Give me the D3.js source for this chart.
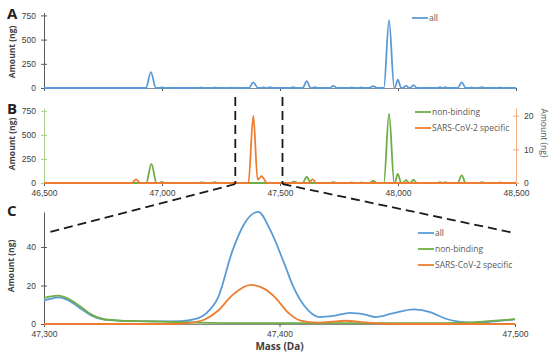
<!DOCTYPE html>
<html>
<head>
<meta charset="utf-8">
<script src="https://d3js.org/d3.v7.min.js"></script>
<style>
  body { margin: 0; background: #fff; }
  svg { display: block; font-family: "Open Sans", sans-serif; }
  .tick text { fill: #404040; font-size: 8.5px; }
  .legend-text { fill: #595959; font-size: 8.5px; }
  .axis-title { fill: #404040; font-size: 8.5px; font-weight: bold; }
  .panel-label { fill: #222; font-size: 15px; font-weight: bold; }
</style>
</head>
<body>
<div id="chart"></div>
<script>
// Panel A: all antibodies (ng) vs mass (Da)
var allA = [[46500,0],[46932,0],[46953,165],[46974,0],[46990,0],[47000,6],[47012,0],
  [47155,0],[47168,5],[47180,0],[47212,0],[47224,5],[47236,0],[47284,0],[47296,4],[47308,0],
  [47368,0],[47387,58],[47406,2],[47418,1],[47430,6],[47442,1],[47447,1],[47457,8],[47470,0],
  [47543,0],[47556,10],[47569,0],[47596,0],[47613,70],[47630,0],[47636,0],[47648,8],[47660,0],
  [47710,0],[47726,22],[47742,0],[47790,0],[47804,5],[47818,0],[47832,0],[47846,5],[47860,0],
  [47878,0],[47895,20],[47912,0],[47940,0],[47962,700],[47984,0],[47986,0],[47999,85],[48014,0],
  [48020,0],[48034,25],[48048,0],[48052,0],[48065,30],[48080,0],[48164,0],[48178,8],[48190,0],
  [48199,8],[48212,0],[48253,0],[48270,58],[48287,0],[48298,0],[48312,5],[48326,0],
  [48341,0],[48355,8],[48369,0],[48418,0],[48432,5],[48446,0],[48500,0]];

// Panel B: non-binding (left axis, ng) and SARS-CoV-2 specific (right axis, ng)
var nonBindingB = [[46500,0],[46933,0],[46955,198],[46977,0],[46988,0],[47000,12],[47013,0],
  [47154,0],[47168,6],[47182,0],[47210,0],[47224,8],[47238,0],[47543,0],[47560,15],[47577,0],
  [47596,0],[47613,65],[47630,0],[47710,0],[47726,8],[47742,0],[47790,0],[47804,5],[47818,0],
  [47832,0],[47846,5],[47860,0],[47878,0],[47895,22],[47912,0],[47940,0],[47962,720],[47984,0],
  [47986,0],[47999,95],[48014,0],[48020,0],[48034,30],[48048,0],[48052,0],[48065,35],[48080,0],
  [48164,0],[48178,8],[48190,0],[48199,8],[48212,0],[48253,0],[48270,80],[48287,0],
  [48340,0],[48355,10],[48370,0],[48418,0],[48432,5],[48446,0],[48500,0]];
var specificB = [[46500,0],[46873,0],[46890,1.1],[46907,0],[47366,0],[47387,20],[47405,1],
  [47414,1.5],[47422,2],[47432,1.2],[47444,0],[47622,0],[47638,1.1],[47654,0],[48500,0]];

// Panel C: zoom 47,300 - 47,500 Da
var allC = [[47300,12.3],[47303,13.2],[47306,13.8],[47310,12.5],[47315,8.5],[47320,4.5],
  [47325,2.4],[47332,1.7],[47340,1.5],[47350,1.4],[47358,1.5],[47364,2.5],[47369,5.7],
  [47374,14],[47380,38],[47385,52],[47391,58.3],[47396,49],[47402,31.5],[47406,19],
  [47412,7.3],[47417,3.6],[47423,4.2],[47430,5.8],[47436,5],[47441,3.6],[47448,5.5],
  [47457,7.6],[47464,6.2],[47470,3],[47476,1.2],[47482,0.6],[47490,1.2],[47500,2.4]];
var nonBindingC = [[47300,13.5],[47303,14.3],[47306,14.7],[47310,13.3],[47315,9.5],[47320,5],
  [47325,2.6],[47332,1.8],[47340,1.5],[47350,1.2],[47360,0.9],[47370,0.6],[47380,0.5],
  [47440,0.5],[47470,0.5],[47480,0.8],[47490,1.6],[47500,2.5]];
var specificC = [[47300,0],[47355,0],[47362,0.6],[47368,2.2],[47374,7],[47380,15],[47388,20.3],
  [47394,18],[47398,14],[47404,5.5],[47409,1.7],[47416,0.7],[47422,1.2],[47428,1.7],
  [47434,1.1],[47440,0.4],[47450,0],[47500,0]];

var massTicksAB = [46500, 47000, 47500, 48000, 48500];
var massTicksC = [47300, 47400, 47500];
var amountTicksLeft = [0, 250, 500, 750];
var amountTicksRight = [0, 10, 20];
var amountTicksC = [0, 20, 40];
var zoomWindow = [47300, 47500];

var colors = { all: "#5B9BD5", nonBinding: "#70AD47", specific: "#ED7D31" };

var svg = d3.select("#chart").append("svg").attr("width", 550).attr("height", 358);

var x = d3.scaleLinear().domain([46500, 48500]).range([44, 516]);
var xC = d3.scaleLinear().domain([47300, 47500]).range([44, 515]);
var yA = d3.scaleLinear().domain([0, 780]).range([88, 12.5]);
var yB = d3.scaleLinear().domain([0, 780]).range([183, 108]);
var yBR = d3.scaleLinear().domain([0, 22.3]).range([183, 108]);
var yC = d3.scaleLinear().domain([0, 58.2]).range([324, 212]);

function lineFor(xs, ys) {
  return d3.line()
    .x(function(d) { return xs(d[0]); })
    .y(function(d) { return ys(d[1]); })
    .curve(d3.curveMonotoneX);
}

function numFmt(d) { return d3.format(",")(d); }

// cross ticks on value axes
function leftAxis(g, scale, ticks, color) {
  g.call(d3.axisLeft(scale).tickValues(ticks).tickSizeInner(3).tickSizeOuter(0).tickPadding(5));
  g.select(".domain").attr("stroke", color).attr("stroke-width", 1);
  g.selectAll(".tick line").attr("x1", 3).attr("stroke", color);
}
function rightAxis(g, scale, ticks, color) {
  g.call(d3.axisRight(scale).tickValues(ticks).tickSizeInner(3).tickSizeOuter(0).tickPadding(5));
  g.select(".domain").attr("stroke", color).attr("stroke-width", 1);
  g.selectAll(".tick line").attr("x1", -3).attr("stroke", color);
}
function bottomAxis(g, scale, ticks, showLabels) {
  g.call(d3.axisBottom(scale).tickValues(ticks).tickSizeInner(3).tickSizeOuter(0).tickPadding(4)
    .tickFormat(showLabels ? numFmt : ""));
  g.select(".domain").attr("stroke", "#8c8c8c");
  g.selectAll(".tick line").attr("stroke", "#595959");
}

function drawSeries(data, xs, ys, color) {
  svg.append("path")
    .datum(data)
    .attr("fill", "none")
    .attr("stroke", color)
    .attr("stroke-width", 1.8)
    .attr("stroke-linejoin", "round")
    .attr("d", lineFor(xs, ys));
}

function legend(items, lx, ly, step) {
  items.forEach(function(it, i) {
    svg.append("line")
      .attr("x1", lx).attr("x2", lx + 16)
      .attr("y1", ly + i * step).attr("y2", ly + i * step)
      .attr("stroke", it.color).attr("stroke-width", 1.8);
    svg.append("text")
      .attr("class", "legend-text")
      .attr("x", lx + 17).attr("y", ly + i * step + 3)
      .text(it.name);
  });
}

function yTitle(text, tx, ty, rot, cls) {
  svg.append("text")
    .attr("class", cls || "axis-title")
    .attr("text-anchor", "middle")
    .attr("transform", "translate(" + tx + "," + ty + ") rotate(" + rot + ")")
    .text(text);
}

// ---- Panel A
bottomAxis(svg.append("g").attr("transform", "translate(0," + yA(0) + ")"), x, massTicksAB, false);
leftAxis(svg.append("g").attr("transform", "translate(" + x(46500) + ",0)"), yA, amountTicksLeft, "#595959");
drawSeries(allA, x, yA, colors.all);
legend([{ name: "all", color: colors.all }], 412, 18, 16);
yTitle("Amount (ng)", 15, 52, -90);

// ---- Panel B
bottomAxis(svg.append("g").attr("transform", "translate(0," + yB(0) + ")"), x, massTicksAB, true);
leftAxis(svg.append("g").attr("transform", "translate(" + x(46500) + ",0)"), yB, amountTicksLeft, "#A9D18E");
rightAxis(svg.append("g").attr("transform", "translate(" + x(48500) + ",0)"), yBR, amountTicksRight, "#F4B183");
drawSeries(nonBindingB, x, yB, colors.nonBinding);
drawSeries(specificB, x, yBR, colors.specific);
legend([{ name: "non-binding", color: colors.nonBinding },
        { name: "SARS-CoV-2 specific", color: colors.specific }], 415, 112, 16);
yTitle("Amount (ng)", 15, 144, -90);
yTitle("Amount (ng)", 541, 133, 90, "legend-text");

// ---- Panel C
bottomAxis(svg.append("g").attr("transform", "translate(0," + yC(0) + ")"), xC, massTicksC, true);
leftAxis(svg.append("g").attr("transform", "translate(" + xC(47300) + ",0)"), yC, amountTicksC, "#595959");
drawSeries(allC, xC, yC, colors.all);
drawSeries(nonBindingC, xC, yC, colors.nonBinding);
drawSeries(specificC, xC, yC, colors.specific);
legend([{ name: "all", color: colors.all },
        { name: "non-binding", color: colors.nonBinding },
        { name: "SARS-CoV-2 specific", color: colors.specific }], 418, 233, 16);
yTitle("Amount (ng)", 14, 266, -90);
svg.append("text")
  .attr("class", "axis-title")
  .attr("text-anchor", "middle")
  .attr("x", xC(47400)).attr("y", 350)
  .style("font-size", "10px")
  .text("Mass (Da)");

// ---- zoom guide lines
var dash = { stroke: "#1a1a1a", width: 1.8, array: "9,5" };
zoomWindow.forEach(function(m, i) {
  var px = x(m) + 2.5;
  svg.append("line")
    .attr("x1", px).attr("x2", px)
    .attr("y1", 97).attr("y2", yB(0) + 1)
    .attr("stroke", dash.stroke).attr("stroke-width", dash.width)
    .attr("stroke-dasharray", dash.array);
  svg.append("line")
    .attr("x1", px).attr("y1", yB(0) + 1)
    .attr("x2", i === 0 ? xC(47300) + 2 : xC(47500) - 1)
    .attr("y2", 233)
    .attr("stroke", dash.stroke).attr("stroke-width", dash.width)
    .attr("stroke-dasharray", dash.array);
});

// ---- panel letters
[["A", 19], ["B", 114], ["C", 216]].forEach(function(p) {
  svg.append("text").attr("class", "panel-label").attr("x", 7).attr("y", p[1]).text(p[0]);
});
</script>
</body>
</html>
